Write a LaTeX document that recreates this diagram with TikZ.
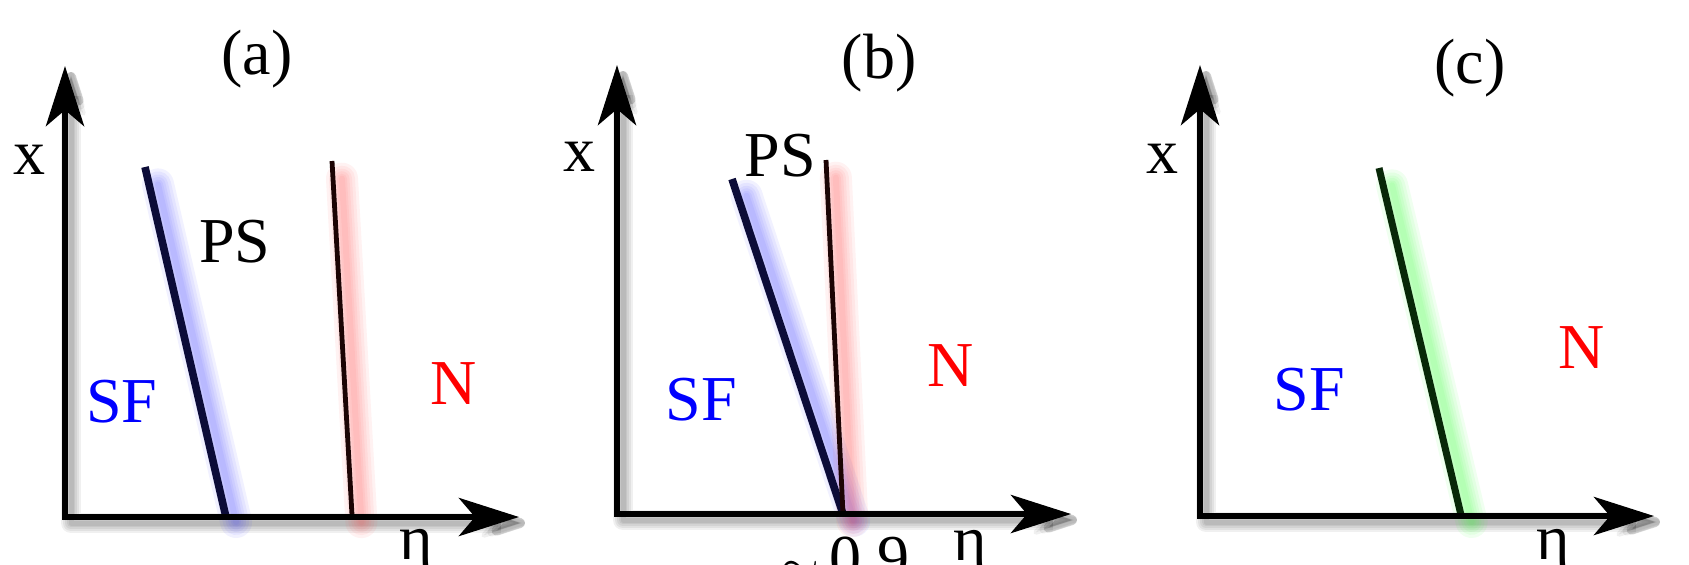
\documentclass[tikz,border=0pt]{standalone}
\usepackage{fontspec}
\setmainfont{Liberation Serif}
\usetikzlibrary{arrows.meta,calc}
\definecolor{navy}{HTML}{0C0C38}
\definecolor{darkred}{HTML}{1C0404}
\definecolor{darkgreen}{HTML}{082808}
\tikzset{
  tip/.tip={Stealth[length=30pt,width=19pt,inset=8pt]},
  axisline/.style={line width=3.3pt, line join=miter, {tip}-{tip}},
  shadowline/.style={line width=#1, draw=black, opacity=0.06, line join=round,
     {Stealth[length=27pt,width=17pt,inset=7pt,round]}-{Stealth[length=27pt,width=17pt,inset=7pt,round]},
     transform canvas={xshift=3pt,yshift=-3pt}},
  glow/.style 2 args={line width=#2, draw=#1, opacity=0.07, line cap=round,
     transform canvas={xshift=4.5pt}},
  thickfront/.style={line width=3.8pt, draw=navy},
  thinfront/.style={line width=2.4pt, draw=darkred},
  greenfront/.style={line width=3.5pt, draw=darkgreen},
  lbl/.style={inner sep=0pt, font=\fontsize{32}{38}\selectfont},
}
\newcommand\glowseg[3]{%
  \foreach \w in {16pt,13pt,10pt,7.5pt,5pt,3pt}{\draw[glow={#1}{\w}] ($(#2)!0.05!(#3)$) -- ($(#2)!1.02!(#3)$);}}
\newcommand\axshadow[3]{%
  \foreach \w in {10pt,8pt,6pt,4pt,2.5pt}{\draw[shadowline=\w] (#1) -- (#2) -- (#3);}}
\begin{document}
\begin{tikzpicture}[x=0.5pt,y=-0.5pt]
\useasboundingbox[fill=white] (0,0) rectangle (1689,564);
\clip (0,0) rectangle (1689,564);
% ---------- panel (a)
\coordinate (ta) at (65,66);
\coordinate (oa) at (65,517);
\coordinate (ra) at (519,517);
\coordinate (a1) at (145,167);
\coordinate (a2) at (225.5,515);
\coordinate (a3) at (332,161);
\coordinate (a4) at (352,515);
\axshadow{ta}{oa}{ra}
\glowseg{blue!75}{a1}{a2}
\glowseg{red!70}{a3}{a4}
\draw[thickfront] (a1) -- (a2);
\draw[thinfront] (a3) -- (a4);
\draw[axisline] (ta) -- (oa) -- (ra);
\node[lbl] (la) at (257,59) {(a)};
\node[lbl] (xa) at (29,160) {x};
\node[lbl] (psa) at (235,242) {PS};
\node[lbl, text=blue] (sfa) at (122,402) {SF};
\node[lbl, text=red] (na) at (454,384) {N};
\node[lbl, anchor=base] (ea) at (416,559) {η};
% ---------- panel (b)
\coordinate (tb) at (617,65);
\coordinate (ob) at (617,514);
\coordinate (rb) at (1071,514);
\coordinate (b1) at (732,179);
\coordinate (b2) at (843,514);
\coordinate (b3) at (826,160);
\coordinate (b4) at (843,514);
\axshadow{tb}{ob}{rb}
\glowseg{blue!75}{b1}{b2}
\glowseg{red!70}{b3}{b4}
\draw[thickfront] (b1) -- (b2);
\draw[thinfront] (b3) -- (b4);
\draw[axisline] (tb) -- (ob) -- (rb);
\node[lbl] (lb) at (879,63) {(b)};
\node[lbl] (xb) at (579,157) {x};
\node[lbl] (psb) at (780,156) {PS};
\node[lbl, text=blue] (sfb) at (701,400) {SF};
\node[lbl, text=red] (nb) at (951,366) {N};
\node[lbl, anchor=base] (tilde) at (845,579) {$\sim$\,0.9};
\node[lbl, anchor=base] (eb) at (970,560) {η};
% ---------- panel (c)
\coordinate (tc) at (1200,65);
\coordinate (oc) at (1200,516);
\coordinate (rc) at (1654,516);
\coordinate (c1) at (1379,168);
\coordinate (c2) at (1461,515);
\axshadow{tc}{oc}{rc}
\glowseg{green!80}{c1}{c2}
\draw[greenfront] (c1) -- (c2);
\draw[axisline] (tc) -- (oc) -- (rc);
\node[lbl] (lc) at (1470,68) {(c)};
\node[lbl] (xc) at (1162,159) {x};
\node[lbl, text=blue] (sfc) at (1309,390) {SF};
\node[lbl, text=red] (nc) at (1582,348) {N};
\node[lbl, anchor=base] (ec) at (1553,559) {η};
\end{tikzpicture}
\end{document}
